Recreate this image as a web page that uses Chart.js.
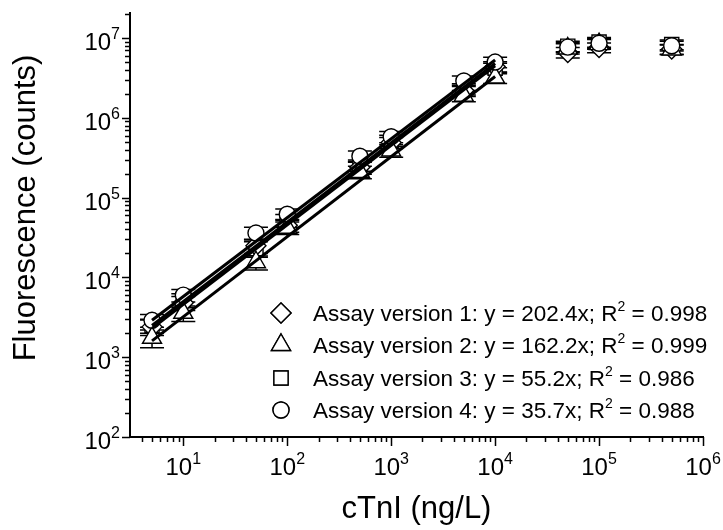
<!DOCTYPE html>
<html lang="en">
<head>
  <meta charset="UTF-8" />
  <title>cTnI assay calibration</title>
  <style>
    html, body { margin: 0; padding: 0; background: #fff; }
    #wrap { width: 723px; height: 530px; }
  </style>
</head>
<body>
  <div id="wrap"><canvas id="chart" width="723" height="530"></canvas></div>

  <script src="https://cdn.jsdelivr.net/npm/chart.js"></script>
  <script>
    // cTnI concentrations (ng/L)
    const concentrations = [5, 10, 50, 100, 500, 1000, 5000, 10000, 50000, 100000, 500000];

    // Fluorescence counts per assay version
    const version1 = [2.4e3, 4.8e3, 2.5e4, 4.5e4, 2.4e5, 4.9e5, 2.2e6, 4.4e6, 6.6e6, 7.6e6, 7.3e6];
    const version2 = [1.75e3, 3.6e3, 1.55e4, 4.2e4, 2.1e5, 3.9e5, 1.9e6, 3.2e6, 7.4e6, 8.4e6, 7.2e6];
    const version3 = [2.5e3, 5.2e3, 2.3e4, 5.2e4, 2.55e5, 5.2e5, 2.3e6, 4.2e6, 7.9e6, 8.9e6, 8.3e6];
    const version4 = [2.9e3, 6.0e3, 3.6e4, 6.2e4, 3.3e5, 5.8e5, 2.9e6, 5.0e6, 7.7e6, 8.6e6, 8.0e6];

    // error bars, percent of value
    const errors1 = [22, 20, 20, 18, 18, 16, 16, 15, 15, 14, 14];
    const errors2 = [25, 22, 20, 18, 18, 18, 16, 16, 15, 14, 14];
    const errors3 = [20, 20, 22, 18, 16, 16, 16, 15, 15, 14, 14];
    const errors4 = [18, 18, 18, 16, 16, 16, 15, 15, 14, 14, 14];

    // linear fits, drawn over the 5 - 10000 ng/L range
    const fitRange = [5, 10000];
    const fit1 = [2.3e3, 4.5e6];
    const fit2 = [1.6e3, 3.3e6];
    const fit3 = [2.5e3, 4.8e6];
    const fit4 = [2.9e3, 5.3e6];

    const legendLabels = [
      'Assay version 1: y = 202.4x; R² = 0.998',
      'Assay version 2: y = 162.2x; R² = 0.999',
      'Assay version 3: y = 55.2x; R² = 0.986',
      'Assay version 4: y = 35.7x; R² = 0.988'
    ];

    // axis decade labels (10^n)
    const xTickExponents = [1, 2, 3, 4, 5, 6];
    const yTickExponents = [2, 3, 4, 5, 6, 7];

    const xTitle = 'cTnI (ng/L)';
    const yTitle = 'Fluorescence (counts)';

    const FONT = 'Arial, "Liberation Sans", sans-serif';

    const toPoints = (xs, ys) => xs.map((x, i) => ({ x: x, y: ys[i] }));

    const markerSet = (label, values, errs, style, radius, order) => ({
      label: label,
      data: toPoints(concentrations, values),
      errors: errs,
      pointStyle: style,
      pointRadius: radius,
      pointHoverRadius: radius,
      pointBackgroundColor: '#fff',
      pointBorderColor: '#000',
      pointBorderWidth: 1.4,
      showLine: false,
      order: order
    });

    const fitSet = (values) => ({
      label: 'fit',
      data: toPoints(fitRange, values),
      showLine: true,
      borderColor: '#000',
      borderWidth: 3,
      pointRadius: 0,
      fill: false,
      isFit: true,
      order: 0
    });

    const isDecade = (v) => {
      const lg = Math.log10(v);
      return Math.abs(lg - Math.round(lg)) < 1e-9;
    };
    const isWholeStep = (v) => {
      const sig = v / Math.pow(10, Math.floor(Math.log10(v) + 1e-9));
      return Math.abs(sig - Math.round(sig)) < 1e-6;
    };

    // draws "10" with a raised exponent
    const drawPower = (ctx, exp, x, y, align) => {
      ctx.font = '24px ' + FONT;
      const wBase = ctx.measureText('10').width;
      ctx.font = '16px ' + FONT;
      const wExp = ctx.measureText(String(exp)).width;
      const total = wBase + wExp;
      let start = x;
      if (align === 'center') start = x - total / 2;
      if (align === 'right') start = x - total;
      ctx.textAlign = 'left';
      ctx.textBaseline = 'alphabetic';
      ctx.font = '24px ' + FONT;
      ctx.fillText('10', start, y);
      ctx.font = '16px ' + FONT;
      ctx.fillText(String(exp), start + wBase, y - 11);
    };

    // error bars under the markers
    const errorBars = {
      id: 'errorBars',
      beforeDatasetsDraw(chart) {
        const { ctx, scales: { x, y } } = chart;
        ctx.save();
        ctx.strokeStyle = '#000';
        ctx.lineWidth = 1.5;
        chart.data.datasets.forEach(ds => {
          if (!ds.errors) return;
          ds.data.forEach((p, i) => {
            const e = ds.errors[i] / 100;
            const px = x.getPixelForValue(p.x);
            const top = y.getPixelForValue(p.y * (1 + e));
            const bot = y.getPixelForValue(p.y * (1 - e));
            ctx.beginPath();
            ctx.moveTo(px, top); ctx.lineTo(px, bot);
            ctx.moveTo(px - 12, top); ctx.lineTo(px + 12, top);
            ctx.moveTo(px - 12, bot); ctx.lineTo(px + 12, bot);
            ctx.stroke();
          });
        });
        ctx.restore();
      }
    };

    // outward tick marks, decade labels, titles and the inset legend
    const decorations = {
      id: 'decorations',
      afterDraw(chart) {
        const { ctx, chartArea, scales: { x, y } } = chart;
        ctx.save();
        ctx.strokeStyle = '#000';
        ctx.fillStyle = '#000';
        ctx.lineWidth = 1.5;

        ctx.beginPath();
        x.ticks.forEach(t => {
          if (!isWholeStep(t.value)) return;
          const px = Math.round(x.getPixelForValue(t.value)) + 0.5;
          const len = isDecade(t.value) ? 9 : 5;
          ctx.moveTo(px, chartArea.bottom);
          ctx.lineTo(px, chartArea.bottom + len);
        });
        y.ticks.forEach(t => {
          if (!isWholeStep(t.value)) return;
          const py = Math.round(y.getPixelForValue(t.value)) + 0.5;
          const len = isDecade(t.value) ? 8 : 5;
          ctx.moveTo(chartArea.left, py);
          ctx.lineTo(chartArea.left - len, py);
        });
        ctx.stroke();

        xTickExponents.forEach(n => {
          drawPower(ctx, n, x.getPixelForValue(Math.pow(10, n)), 475, 'center');
        });
        yTickExponents.forEach(n => {
          drawPower(ctx, n, chartArea.left - 10, y.getPixelForValue(Math.pow(10, n)) + 12, 'right');
        });

        // axis titles
        ctx.font = '31px ' + FONT;
        ctx.textAlign = 'center';
        ctx.textBaseline = 'alphabetic';
        ctx.fillText(xTitle, (chartArea.left + chartArea.right) / 2, 518);
        ctx.save();
        ctx.translate(35, 208);
        ctx.rotate(-Math.PI / 2);
        ctx.fillText(yTitle, 0, 0);
        ctx.restore();

        // legend
        const rows = [313, 345, 378, 410];
        const markers = chart.data.datasets.filter(ds => !ds.isFit);
        markers.forEach((ds, i) => {
          const cy = rows[i];
          Chart.helpers.drawPoint(ctx, {
            pointStyle: ds.pointStyle,
            radius: ds.pointRadius,
            borderWidth: 1.4
          }, 281, cy);
          ctx.fillStyle = '#fff';
          ctx.fill();
          ctx.strokeStyle = '#000';
          ctx.lineWidth = 1.4;
          ctx.stroke();

          ctx.fillStyle = '#000';
          ctx.textAlign = 'left';
          const parts = legendLabels[i].split('²');
          let tx = 313;
          const base = cy + 8;
          ctx.font = '22.5px ' + FONT;
          ctx.fillText(parts[0], tx, base);
          tx += ctx.measureText(parts[0]).width;
          ctx.font = '14px ' + FONT;
          ctx.fillText('2', tx, base - 10);
          tx += ctx.measureText('2').width;
          ctx.font = '22.5px ' + FONT;
          ctx.fillText(parts[1], tx, base);
        });
        ctx.restore();
      }
    };

    new Chart(document.getElementById('chart'), {
      type: 'scatter',
      data: {
        datasets: [
          fitSet(fit1), fitSet(fit2), fitSet(fit3), fitSet(fit4),
          markerSet('Assay version 1', version1, errors1, 'rectRot', 10, 3),
          markerSet('Assay version 2', version2, errors2, 'triangle', 11, 2),
          markerSet('Assay version 3', version3, errors3, 'rect', 10, 4),
          markerSet('Assay version 4', version4, errors4, 'circle', 8, 1)
        ]
      },
      options: {
        responsive: false,
        animation: false,
        devicePixelRatio: 1,
        layout: { padding: { top: 13, right: 20, left: 0, bottom: 0 } },
        plugins: {
          legend: { display: false },
          tooltip: { enabled: false }
        },
        scales: {
          x: {
            type: 'logarithmic',
            min: 3.07,
            max: 1e6,
            grid: { display: false },
            border: { display: true, color: '#000', width: 2 },
            ticks: { display: false },
            afterFit: (scale) => { scale.height = 93; }
          },
          y: {
            type: 'logarithmic',
            min: 100,
            max: 2.06e7,
            grid: { display: false },
            border: { display: true, color: '#000', width: 2 },
            ticks: { display: false },
            afterFit: (scale) => { scale.width = 130; }
          }
        }
      },
      plugins: [errorBars, decorations]
    });
  </script>
</body>
</html>
